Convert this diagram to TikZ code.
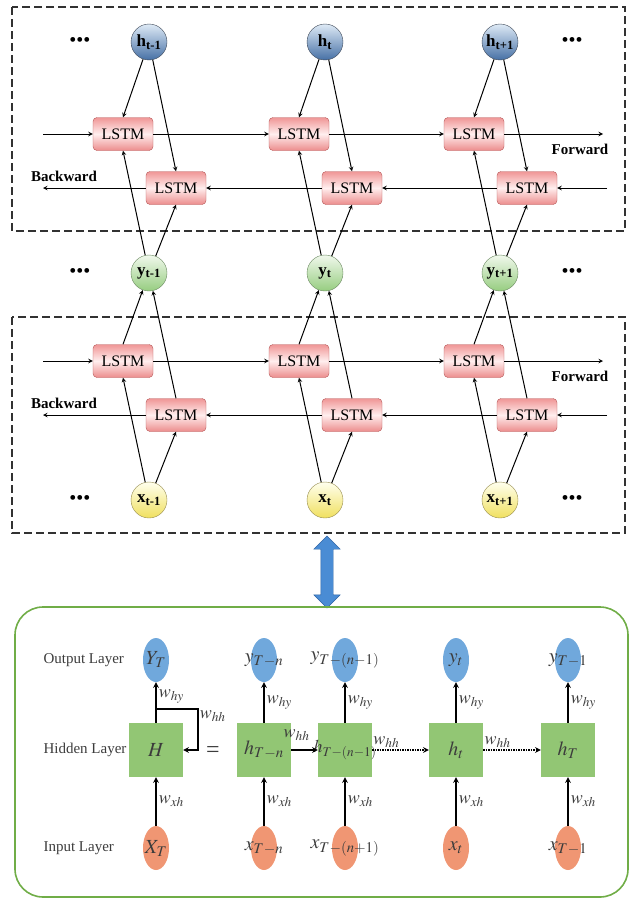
\documentclass[tikz,border=0pt]{standalone}
\usepackage{mathptmx}
\usepackage{fontspec}
\setmainfont{Liberation Serif}
\usetikzlibrary{shapes.geometric, shapes.arrows, arrows}

\definecolor{lstmtop}{RGB}{240,150,150}
\definecolor{lstmmid}{RGB}{255,238,238}
\definecolor{lstmbot}{RGB}{236,140,140}
\definecolor{lstmdraw}{RGB}{180,85,85}
\definecolor{htop}{RGB}{222,234,246}
\definecolor{hbot}{RGB}{70,112,165}
\definecolor{hdraw}{RGB}{60,70,85}
\definecolor{ytop}{RGB}{240,248,236}
\definecolor{ybot}{RGB}{150,205,128}
\definecolor{ydraw}{RGB}{105,135,95}
\definecolor{xtop}{RGB}{255,255,238}
\definecolor{xbot}{RGB}{240,224,95}
\definecolor{xdraw}{RGB}{150,140,80}
\definecolor{framegray}{RGB}{50,50,50}
\definecolor{framegreen}{RGB}{112,173,71}
\definecolor{linkblue}{RGB}{74,140,212}
\definecolor{linkdraw}{RGB}{45,100,165}
\definecolor{boxgreen}{RGB}{146,198,116}
\definecolor{outblue}{RGB}{112,168,220}
\definecolor{inorange}{RGB}{240,150,115}
\definecolor{textgray}{RGB}{60,60,60}

\newcommand{\ctext}[1]{\makebox[0pt]{#1}}

\tikzstyle{lstm} = [rectangle, rounded corners=4pt, minimum width=60pt, minimum height=33pt, text centered, draw=lstmdraw, top color=lstmtop, bottom color=lstmbot, middle color=lstmmid, font=\fontsize{16}{16}\selectfont]
\tikzstyle{hnode} = [circle, minimum size=36pt, inner sep=0pt, draw=hdraw, top color=htop, bottom color=hbot, font=\bfseries\fontsize{17}{17}\selectfont]
\tikzstyle{ynode} = [circle, minimum size=36pt, inner sep=0pt, draw=ydraw, top color=ytop, bottom color=ybot, font=\bfseries\fontsize{17}{17}\selectfont]
\tikzstyle{xnode} = [circle, minimum size=36pt, inner sep=0pt, draw=xdraw, top color=xtop, bottom color=xbot, font=\bfseries\fontsize{17}{17}\selectfont]
\tikzstyle{dots} = [font=\fontsize{20}{20}\selectfont]
\tikzstyle{dir} = [font=\bfseries\fontsize{15}{15}\selectfont]
\tikzstyle{frame} = [draw=framegray, line width=1.5pt, dash pattern=on 8pt off 4pt]
\tikzstyle{arrow} = [line width=1pt,->,>=stealth]
\tikzstyle{hbox} = [rectangle, minimum width=54pt, minimum height=54pt, fill=boxgreen, text=textgray, font=\fontsize{20}{20}\selectfont]
\tikzstyle{outnode} = [ellipse, minimum width=26pt, minimum height=44pt, inner sep=0pt, fill=outblue, text=textgray, font=\fontsize{20}{20}\selectfont]
\tikzstyle{innode} = [ellipse, minimum width=26pt, minimum height=44pt, inner sep=0pt, fill=inorange, text=textgray, font=\fontsize{20}{20}\selectfont]
\tikzstyle{layer} = [anchor=west, text=textgray, font=\fontsize{15}{15}\selectfont]
\tikzstyle{wlabel} = [text=textgray, inner sep=2pt, font=\fontsize{18}{18}\selectfont]
\tikzstyle{warrow} = [line width=1.5pt,->,>=stealth]

\begin{document}
\begin{tikzpicture}[x=1pt, y=-1pt, node distance=176pt]
\useasboundingbox (0,0) rectangle (633,902);

% bidirectional layers
\draw [frame] (12,7) rectangle (625,231);
\draw [frame] (12,317) rectangle (625,533);

\node (h1) [hnode] at (149,42) {h\textsubscript{t-1}};
\node (h2) [hnode, right of=h1] {h\textsubscript{t}};
\node (h3) [hnode, right of=h2, xshift=-1pt] {h\textsubscript{t+1}};
\node (y1) [ynode, below of=h1, node distance=231pt] {y\textsubscript{t-1}};
\node (y2) [ynode, below of=h2, node distance=231pt] {y\textsubscript{t}};
\node (y3) [ynode, below of=h3, node distance=231pt] {y\textsubscript{t+1}};
\node (x1) [xnode, below of=y1, node distance=227pt] {x\textsubscript{t-1}};
\node (x2) [xnode, below of=y2, node distance=227pt] {x\textsubscript{t}};
\node (x3) [xnode, below of=y3, node distance=227pt] {x\textsubscript{t+1}};

\node (dh1) [dots, left of=h1, node distance=69pt] {•••};
\node (dh3) [dots, right of=h3, node distance=72pt] {•••};
\node (dy1) [dots, left of=y1, node distance=69pt] {•••};
\node (dy3) [dots, right of=y3, node distance=72pt] {•••};
\node (dx1) [dots, left of=x1, node distance=69pt] {•••};
\node (dx3) [dots, right of=x3, node distance=72pt] {•••};

\node (uf1) [lstm, below of=h1, node distance=92pt, xshift=-26pt] {LSTM};
\node (uf2) [lstm, below of=h2, node distance=92pt, xshift=-26pt] {LSTM};
\node (uf3) [lstm, below of=h3, node distance=92pt, xshift=-26pt] {LSTM};
\node (ub1) [lstm, below of=h1, node distance=146pt, xshift=27pt] {LSTM};
\node (ub2) [lstm, below of=h2, node distance=146pt, xshift=27pt] {LSTM};
\node (ub3) [lstm, below of=h3, node distance=146pt, xshift=27pt] {LSTM};
\node (lf1) [lstm, below of=y1, node distance=88pt, xshift=-26pt] {LSTM};
\node (lf2) [lstm, below of=y2, node distance=88pt, xshift=-26pt] {LSTM};
\node (lf3) [lstm, below of=y3, node distance=88pt, xshift=-26pt] {LSTM};
\node (lb1) [lstm, below of=y1, node distance=142pt, xshift=27pt] {LSTM};
\node (lb2) [lstm, below of=y2, node distance=142pt, xshift=27pt] {LSTM};
\node (lb3) [lstm, below of=y3, node distance=142pt, xshift=27pt] {LSTM};

\node (ufw) [dir] at (580,149) {Forward};
\node (ubw) [dir] at (64,176) {Backward};
\node (lfw) [dir] at (580,376) {Forward};
\node (lbw) [dir] at (64,403) {Backward};

\coordinate (ufin) at (43,134);
\coordinate (ufout) at (603,134);
\coordinate (ubin) at (607,188);
\coordinate (ubout) at (43,188);
\coordinate (lfin) at (43,361);
\coordinate (lfout) at (603,361);
\coordinate (lbin) at (607,415);
\coordinate (lbout) at (43,415);

\draw [arrow] (ufin) -- (uf1);
\draw [arrow] (uf1) -- (uf2);
\draw [arrow] (uf2) -- (uf3);
\draw [arrow] (uf3) -- (ufout);
\draw [arrow] (ubin) -- (ub3);
\draw [arrow] (ub3) -- (ub2);
\draw [arrow] (ub2) -- (ub1);
\draw [arrow] (ub1) -- (ubout);
\draw [arrow] (lfin) -- (lf1);
\draw [arrow] (lf1) -- (lf2);
\draw [arrow] (lf2) -- (lf3);
\draw [arrow] (lf3) -- (lfout);
\draw [arrow] (lbin) -- (lb3);
\draw [arrow] (lb3) -- (lb2);
\draw [arrow] (lb2) -- (lb1);
\draw [arrow] (lb1) -- (lbout);

\draw [arrow] (h1) -- (uf1.north);
\draw [arrow] (h1) -- (ub1.north);
\draw [arrow] (h2) -- (uf2.north);
\draw [arrow] (h2) -- (ub2.north);
\draw [arrow] (h3) -- (uf3.north);
\draw [arrow] (h3) -- (ub3.north);
\draw [arrow] (y1) -- (uf1.south);
\draw [arrow] (y1) -- (ub1.south);
\draw [arrow] (y2) -- (uf2.south);
\draw [arrow] (y2) -- (ub2.south);
\draw [arrow] (y3) -- (uf3.south);
\draw [arrow] (y3) -- (ub3.south);
\draw [arrow] (lf1.north) -- (y1);
\draw [arrow] (lb1.north) -- (y1);
\draw [arrow] (lf2.north) -- (y2);
\draw [arrow] (lb2.north) -- (y2);
\draw [arrow] (lf3.north) -- (y3);
\draw [arrow] (lb3.north) -- (y3);
\draw [arrow] (x1) -- (lf1.south);
\draw [arrow] (x1) -- (lb1.south);
\draw [arrow] (x2) -- (lf2.south);
\draw [arrow] (x2) -- (lb2.south);
\draw [arrow] (x3) -- (lf3.south);
\draw [arrow] (x3) -- (lb3.south);

\node (link) [double arrow, rotate=90, minimum height=72pt, inner sep=6pt, double arrow head extend=7pt, fill=linkblue, draw=linkdraw] at (327,572) {};

% unfolded RNN
\draw [draw=framegreen, line width=1.6pt, rounded corners=28pt] (15,607) rectangle (628,897);

\node (lout) [layer] at (40,660) {Output Layer};
\node (lhid) [layer] at (40,750) {Hidden Layer};
\node (lin) [layer] at (40,848) {Input Layer};

\node (H) [hbox] at (156,750) {$H$};
\node (hA) [hbox, right of=H, node distance=108pt] {$h_{T-n}$};
\node (hB) [hbox, right of=hA, node distance=81pt, font=\fontsize{18}{18}\selectfont] {\ctext{$h_{T-(n-1)}$}};
\node (hC) [hbox, right of=hB, node distance=111pt] {$h_t$};
\node (hD) [hbox, right of=hC, node distance=112pt] {$h_T$};
\node (eq) [text=textgray, font=\fontsize{24}{24}\selectfont] at (213,752) {=};

\node (YT) [outnode, above of=H, node distance=90pt] {\ctext{$Y_T$}};
\node (yA) [outnode, above of=hA, node distance=90pt] {\ctext{$y_{T-n}$}};
\node (yB) [outnode, above of=hB, node distance=90pt] {\ctext{$y_{T-(n-1)}$}};
\node (yC) [outnode, above of=hC, node distance=90pt] {\ctext{$y_t$}};
\node (yD) [outnode, above of=hD, node distance=90pt] {\ctext{$y_{T-1}$}};
\node (XT) [innode, below of=H, node distance=98pt] {\ctext{$X_T$}};
\node (xA) [innode, below of=hA, node distance=98pt] {\ctext{$x_{T-n}$}};
\node (xB) [innode, below of=hB, node distance=98pt] {\ctext{$x_{T-(n+1)}$}};
\node (xC) [innode, below of=hC, node distance=98pt] {\ctext{$x_t$}};
\node (xD) [innode, below of=hD, node distance=98pt] {\ctext{$x_{T-1}$}};

\draw [warrow] (XT) -- node[wlabel, right] {$w_{xh}$} (H);
\draw [warrow] (xA) -- node[wlabel, right] {$w_{xh}$} (hA);
\draw [warrow] (xB) -- node[wlabel, right] {$w_{xh}$} (hB);
\draw [warrow] (xC) -- node[wlabel, right] {$w_{xh}$} (hC);
\draw [warrow] (xD) -- node[wlabel, right] {$w_{xh}$} (hD);
\draw [warrow] (H) -- node[wlabel, right, pos=0.65] {$w_{hy}$} (YT);
\draw [warrow] (hA) -- node[wlabel, right] {$w_{hy}$} (yA);
\draw [warrow] (hB) -- node[wlabel, right] {$w_{hy}$} (yB);
\draw [warrow] (hC) -- node[wlabel, right] {$w_{hy}$} (yC);
\draw [warrow] (hD) -- node[wlabel, right] {$w_{hy}$} (yD);

\draw [warrow] (H.north) ++(0,-14) -- ++(42,0) node[wlabel, below right, inner sep=1pt] {$w_{hh}$} |- (H.east);
\draw [warrow] (hA) -- node[wlabel, above, pos=0.2, yshift=7pt] {$w_{hh}$} (hB);
\draw [warrow, densely dotted] (hB) -- node[wlabel, above, pos=0.25] {$w_{hh}$} (hC);
\draw [warrow, densely dotted] (hC) -- node[wlabel, above, pos=0.25] {$w_{hh}$} (hD);

\end{tikzpicture}
\end{document}
